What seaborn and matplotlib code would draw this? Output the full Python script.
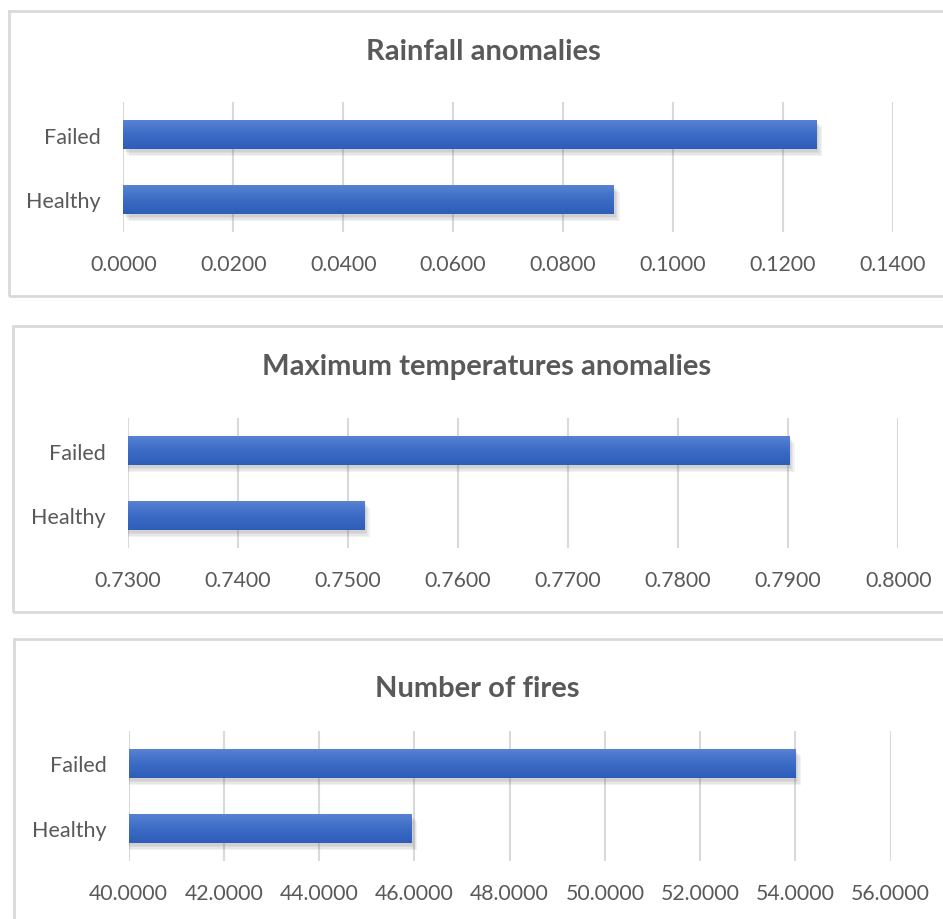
import numpy as np
import pandas as pd
import matplotlib
matplotlib.use("Agg")
import matplotlib.pyplot as plt
import matplotlib.patheffects as pe
from matplotlib.patches import Rectangle
from matplotlib.colors import LinearSegmentedColormap
import seaborn as sns

# Data
categories = ["Failed", "Healthy"]
rainfall_values = [0.1261, 0.0893]
tmax_values = [0.7901, 0.7515]
fires_values = [54.0, 45.94]

titles = ["Rainfall anomalies", "Maximum temperatures anomalies", "Number of fires"]
rainfall_ticks = [0.00, 0.02, 0.04, 0.06, 0.08, 0.10, 0.12, 0.14]
tmax_ticks = [0.73, 0.74, 0.75, 0.76, 0.77, 0.78, 0.79, 0.80]
fires_ticks = [40, 42, 44, 46, 48, 50, 52, 54, 56]

sns.set_theme(style="white")
plt.rcParams["font.family"] = ["Lato", "DejaVu Sans"]

W, H = 943, 920
fig = plt.figure(figsize=(W / 100, H / 100), dpi=100)
fig.patch.set_facecolor("white")

TEXT = "#595959"
GRID = "#d9d9d9"
BORDER = "#d9d9d9"

bar_cmap = LinearSegmentedColormap.from_list("bar", ["#5a84d4", "#3d6cc6", "#2d5db8"])


def px_axes(left, right, top, bottom):
    return fig.add_axes([left / W, 1 - bottom / H, (right - left) / W, (bottom - top) / H])


def frame(left, top, right, bottom):
    fig.patches.append(Rectangle((left / W, 1 - bottom / H), (right - left) / W, (bottom - top) / H,
                                 transform=fig.transFigure, facecolor="none",
                                 edgecolor=BORDER, linewidth=2.0, zorder=0))


panels = [
    dict(values=rainfall_values, ticks=rainfall_ticks, title=titles[0],
         box=(9, 11.5, 960, 297), ax=(123.3, 893.0, 103, 233), title_xy=(483, 52)),
    dict(values=tmax_values, ticks=tmax_ticks, title=titles[1],
         box=(13, 327, 960, 613), ax=(127.5, 898.2, 419, 549), title_xy=(487, 367)),
    dict(values=fires_values, ticks=fires_ticks, title=titles[2],
         box=(13.5, 640, 960, 940), ax=(128.7, 890.6, 732, 862), title_xy=(477, 689)),
]

# soft, blurred-looking drop shadow built from stacked offsets
shadow = [pe.SimplePatchShadow(offset=(o, -o - 1), shadow_rgbFace="#808080", alpha=0.10)
          for o in (1, 2, 3, 4)]

for p in panels:
    frame(*p["box"])
    l, r, t, b = p["ax"]
    ax = px_axes(l, r, t, b)
    df = pd.DataFrame({"category": categories, "value": p["values"]})
    sns.barplot(data=df, x="value", y="category", orient="h", color="#4472c4",
                width=0.45, ax=ax, zorder=3)
    ticks = p["ticks"]
    xmin, xmax = ticks[0], ticks[-1]

    # gradient fill on each bar
    for patch in list(ax.patches):
        x0, y0 = patch.get_x(), patch.get_y()
        w, h = patch.get_width(), patch.get_height()
        patch.set_path_effects(shadow + [pe.Normal()])
        patch.set_linewidth(0)
        grad = np.linspace(0, 1, 64).reshape(-1, 1)
        im = ax.imshow(grad, cmap=bar_cmap, aspect="auto",
                       extent=(max(x0, xmin), x0 + w, y0 + h, y0), origin="upper",
                       zorder=4, interpolation="bicubic")
        im.set_clip_path(patch)

    ax.set_xlim(xmin, xmax)
    ax.set_ylim(1.5, -0.5)
    ax.set_xticks(ticks)
    ax.set_xticklabels([f"{v:.4f}" for v in ticks])
    ax.xaxis.grid(True, color=GRID, linewidth=1.5, zorder=0)
    ax.set_axisbelow(True)
    for s in ax.spines.values():
        s.set_visible(False)
    ax.tick_params(axis="x", length=0, pad=16, labelsize=15.3, labelcolor=TEXT)
    ax.tick_params(axis="y", length=0, pad=16, labelsize=15.5, labelcolor=TEXT)
    ax.set_xlabel("")
    ax.set_ylabel("")
    ax.set_facecolor("none")

    tx, ty = p["title_xy"]
    fig.text(tx / W, 1 - ty / H, p["title"], ha="center", va="center",
             fontsize=21, fontweight="bold", color=TEXT)

fig.savefig("out.png", dpi=100, facecolor="white")
